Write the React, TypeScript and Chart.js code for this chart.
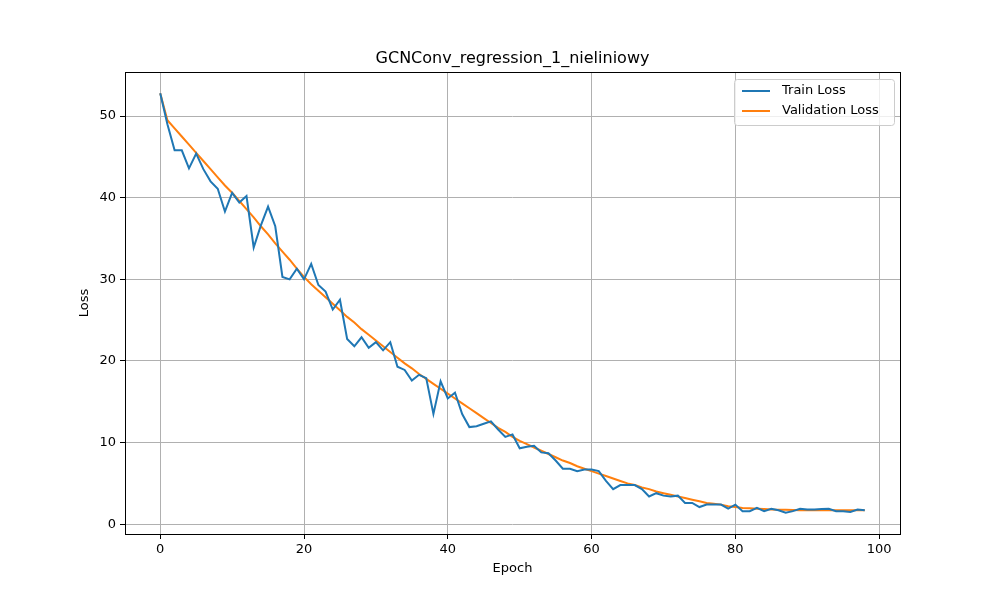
import { useEffect, useRef } from "react"
import { Chart, registerables } from "chart.js"

Chart.register(...registerables)

const epochs = Array.from({ length: 99 }, (_, i) => i)

const trainLoss = [
  52.8, 49, 45.8, 45.8, 43.6, 45.4, 43.5, 42, 41.1, 38.3,
  40.6, 39.4, 40.2, 33.9, 36.6, 38.9, 36.5, 30.3, 30, 31.3,
  30, 31.9, 29.3, 28.5, 26.3, 27.5, 22.7, 21.8, 22.9, 21.6,
  22.3, 21.3, 22.3, 19.3, 18.9, 17.6, 18.3, 17.9, 13.5, 17.5,
  15.4, 16.1, 13.5, 11.9, 12, 12.3, 12.6, 11.6, 10.7, 11,
  9.3, 9.5, 9.6, 8.8, 8.7, 7.8, 6.8, 6.8, 6.5, 6.7,
  6.7, 6.5, 5.3, 4.3, 4.8, 4.8, 4.8, 4.3, 3.4, 3.8,
  3.5, 3.4, 3.5, 2.6, 2.6, 2.1, 2.4, 2.4, 2.4, 1.9,
  2.4, 1.6, 1.6, 2.0, 1.6, 1.9, 1.7, 1.4, 1.6, 1.9,
  1.8, 1.8, 1.85, 1.9, 1.6, 1.6, 1.5, 1.8, 1.7,
]

const valLoss = [
  52.8, 49.5, 48.5, 47.5, 46.5, 45.5, 44.5, 43.5, 42.5, 41.5,
  40.6, 39.6, 38.6, 37.6, 36.5, 35.5, 34.4, 33.4, 32.4, 31.3,
  30.3, 29.4, 28.6, 27.8, 27.0, 26.2, 25.4, 24.7, 23.9, 23.2,
  22.5, 21.8, 21.1, 20.4, 19.7, 19.1, 18.4, 17.8, 17.2, 16.6,
  16.0, 15.4, 14.8, 14.2, 13.6, 13.0, 12.4, 11.8, 11.3, 10.7,
  10.2, 9.8, 9.4, 9.0, 8.6, 8.2, 7.8, 7.5, 7.1, 6.8,
  6.5, 6.2, 5.9, 5.6, 5.3, 5.0, 4.8, 4.5, 4.3, 4.0,
  3.8, 3.6, 3.4, 3.2, 3.0, 2.8, 2.6, 2.5, 2.4, 2.2,
  2.1, 2.0, 1.95, 1.9, 1.85, 1.8, 1.78, 1.76, 1.74, 1.72,
  1.7, 1.7, 1.7, 1.7, 1.7, 1.7, 1.7, 1.7, 1.7,
]

const seriesNames = ["Train Loss", "Validation Loss"]
const seriesColors = ["#1f77b4", "#ff7f0e"]
const chartTitle = "GCNConv_regression_1_nieliniowy"

const FONT = "'DejaVu Sans', sans-serif"

const decorPlugin = {
  id: "decor",
  afterDraw(chart: Chart) {
    const { ctx, chartArea: a } = chart
    ctx.save()
    ctx.strokeStyle = "#000"
    ctx.lineWidth = 1
    ctx.strokeRect(a.left + 0.5, a.top + 0.5, a.right - a.left, a.bottom - a.top)
    ctx.fillStyle = "#000"
    ctx.font = `16px ${FONT}`
    ctx.textAlign = "center"
    ctx.textBaseline = "bottom"
    ctx.fillText(chartTitle, (a.left + a.right) / 2, a.top - 5)
    // axis titles
    ctx.font = `13px ${FONT}`
    ctx.textBaseline = "middle"
    ctx.fillText("Epoch", (a.left + a.right) / 2, 569)
    ctx.save()
    ctx.translate(85, (a.top + a.bottom) / 2)
    ctx.rotate(-Math.PI / 2)
    ctx.fillText("Loss", 0, 0)
    ctx.restore()
    // legend
    const lx = 734, ly = 79, lw = 160, lh = 46
    ctx.fillStyle = "rgba(255,255,255,0.8)"
    ctx.strokeStyle = "#cccccc"
    ctx.beginPath()
    ctx.roundRect(lx + 0.5, ly + 0.5, lw, lh, 3)
    ctx.fill()
    ctx.stroke()
    ctx.font = `13px ${FONT}`
    ctx.textAlign = "left"
    ctx.textBaseline = "middle"
    seriesNames.forEach((n, i) => {
      const y = ly + 12 + i * 20
      ctx.strokeStyle = seriesColors[i]
      ctx.lineWidth = 2
      ctx.beginPath()
      ctx.moveTo(lx + 8, y)
      ctx.lineTo(lx + 36, y)
      ctx.stroke()
      ctx.fillStyle = "#000"
      ctx.fillText(n, lx + 48, y)
    })
    ctx.restore()
  },
}

export default function App() {
  const ref = useRef<HTMLCanvasElement>(null)

  useEffect(() => {
    document.body.style.margin = "0"
    if (!ref.current) return
    const chart = new Chart(ref.current, {
      type: "line",
      data: {
        datasets: [trainLoss, valLoss].map((vals, i) => ({
          label: seriesNames[i],
          data: vals.map((v, j) => ({ x: epochs[j], y: v })),
          borderColor: seriesColors[i],
          backgroundColor: seriesColors[i],
          borderWidth: 2,
          pointRadius: 0,
          tension: 0,
        })),
      },
      options: {
        responsive: false,
        animation: false,
        layout: { padding: { top: 72, right: 100, left: 0, bottom: 0 } },
        plugins: { legend: { display: false }, title: { display: false }, tooltip: { enabled: false } },
        scales: {
          x: {
            type: "linear",
            min: -4.9,
            max: 102.9,
            afterBuildTicks: (s: any) => { s.ticks = [0, 20, 40, 60, 80, 100].map((v) => ({ value: v })) },
            afterFit: (s: any) => { s.height = 66 },
            grid: { color: "#b0b0b0", tickColor: "#000", tickLength: 5 },
            border: { display: false },
            ticks: { color: "#000", font: { family: FONT, size: 13 }, padding: 3, maxRotation: 0 },
          },
          y: {
            min: -1.2,
            max: 55.4,
            afterBuildTicks: (s: any) => { s.ticks = [0, 10, 20, 30, 40, 50].map((v) => ({ value: v })) },
            afterFit: (s: any) => { s.width = 125 },
            grid: { color: "#b0b0b0", tickColor: "#000", tickLength: 5 },
            border: { display: false },
            ticks: { color: "#000", font: { family: FONT, size: 13 }, padding: 4 },
          },
        },
      },
      plugins: [decorPlugin],
    })
    return () => chart.destroy()
  }, [])

  return <canvas ref={ref} width={1000} height={600} style={{ display: "block" }} />
}
